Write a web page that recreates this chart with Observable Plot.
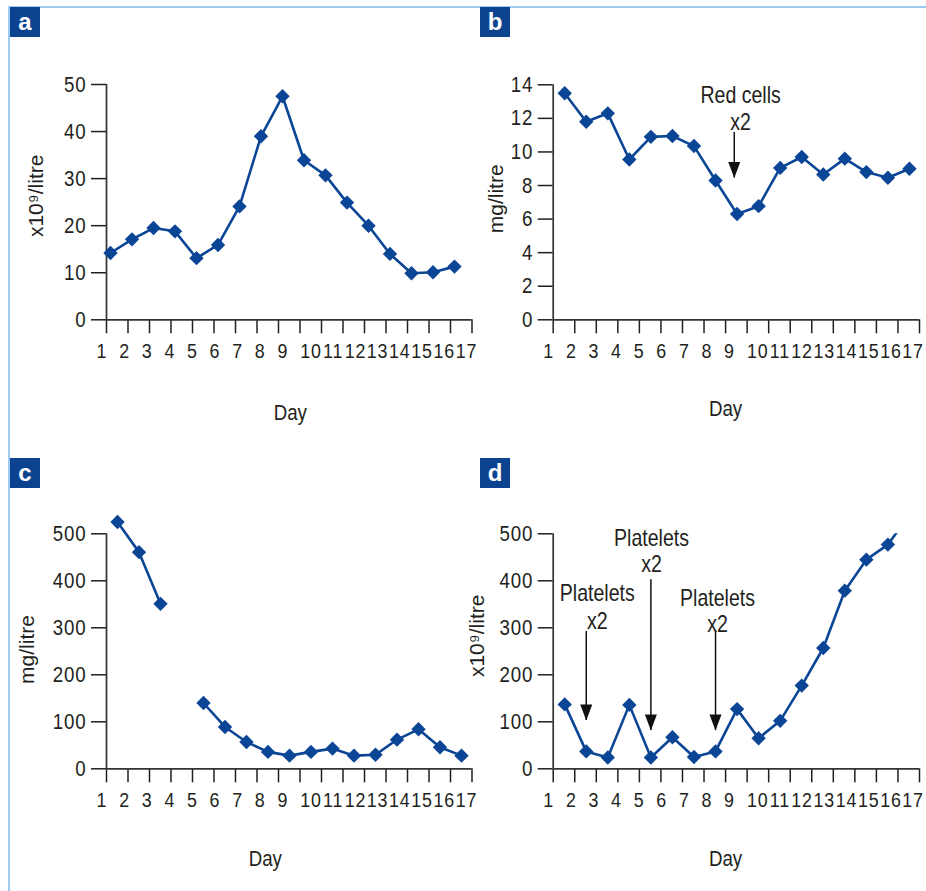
<!DOCTYPE html>
<html><head><meta charset="utf-8">
<script src="https://cdn.jsdelivr.net/npm/d3@7"></script>
<script src="https://cdn.jsdelivr.net/npm/@observablehq/plot@0.6"></script>
<style>
html,body{margin:0;padding:0;background:#fff;}
#wrap{position:relative;width:926px;height:891px;overflow:hidden;background:#fff;}
#wrap svg{position:absolute;left:0;top:0;}
.bl{position:absolute;background:#9fcbef;}
.tag{position:absolute;width:30px;height:30px;background:#0b4391;color:#fff;font:bold 24px "Liberation Sans",Arial,sans-serif;text-align:center;line-height:29px;}
</style></head>
<body><div id="wrap">
<div class="bl" style="left:8px;top:6px;width:2px;height:885px"></div>
<div class="bl" style="left:8px;top:6px;width:918px;height:2px"></div>
<div class="tag" style="left:10px;top:7px">a</div>
<div class="tag" style="left:480px;top:7px">b</div>
<div class="tag" style="left:10px;top:458px">c</div>
<div class="tag" style="left:480px;top:458px">d</div>
</div>
<script>
// ---- data ----
const days = d3.range(1, 18);
const dayLabels = days.map(String);
const aValues = [14.2, 17.1, 19.5, 18.8, 13.1, 15.9, 24.1, 39.0, 47.5, 33.9, 30.7, 24.9, 20.0, 14.0, 9.9, 10.1, 11.3];
const bValues = [13.5, 11.8, 12.3, 9.55, 10.9, 10.95, 10.35, 8.3, 6.3, 6.77, 9.05, 9.7, 8.66, 9.6, 8.8, 8.46, 9.0];
const cValues = [525, 461, 351, null, 140, 89, 57, 36, 28, 36, 43, 28, 30, 62, 84, 46, 28];
const dValues = [137, 37, 24, 136, 24, 67, 25, 37, 127, 65, 102, 177, 257, 379, 445, 477, 540];
const aTicks = [0, 10, 20, 30, 40, 50];
const bTicks = [0, 2, 4, 6, 8, 10, 12, 14];
const cTicks = [0, 100, 200, 300, 400, 500];
const dTicks = [0, 100, 200, 300, 400, 500];
const bNotes = [{day: 8.87, line1: "Red cells", line2: "x2", top: 11.16, tip: 8.45, y1: 12.9, y2: 11.32, tdx: 6.3}];
const dNotes = [
  {day: 2, line1: "Platelets", line2: "x2", top: 292, tip: 103, y1: 356, y2: 298, tdx: 11},
  {day: 5, line1: "Platelets", line2: "x2", top: 402, tip: 81.5, y1: 475, y2: 418, tdx: 0.6},
  {day: 8, line1: "Platelets", line2: "x2", top: 294, tip: 81.5, y1: 347, y2: 290.5, tdx: 2}
];

const BLUE = "#0b4595";
const INK = "#231f20";
const FONT = '"Liberation Sans",Arial,sans-serif';
const SQUEEZE = 0.85;
const diamond = {draw(ctx) { const s = 7.2; ctx.moveTo(0, -s); ctx.lineTo(s, 0); ctx.lineTo(0, s); ctx.lineTo(-s, 0); ctx.closePath(); }};
const arrowHead = {draw(ctx) { ctx.moveTo(-6, -16); ctx.lineTo(6, -16); ctx.lineTo(0, 0); ctx.closePath(); }};

// pixel offset of each day label from the first tick (labels run together as in the original)
function labelOffset(k) { return k <= 9 ? -4.5 + 22.6 * (k - 1) : 204.5 + 22.2 * (k - 10); }

// condensed look: narrow every horizontal text around its anchor
function condense(svg) {
  svg.querySelectorAll("text").forEach(t => {
    const tr = t.getAttribute("transform") || "";
    if (/rotate/.test(tr)) return;
    if (/^\d+$/.test(t.textContent.trim())) t.style.letterSpacing = "1px";
    if (tr) {
      t.setAttribute("transform", tr + ` scale(${SQUEEZE},1)`);
    } else {
      const x = +(t.getAttribute("x") || 0), y = +(t.getAttribute("y") || 0);
      t.setAttribute("transform", `translate(${x},${y}) scale(${SQUEEZE},1) translate(${-x},${-y})`);
    }
  });
}

function panel(cfg) {
  const W = 926, H = 891;
  const band = (cfg.x1 - cfg.x0) / 17;
  const rows = days.map((d, i) => ({day: d, v: cfg.values[i]}));
  const notes = cfg.notes || [];
  const marks = [
    Plot.axisY({ticks: cfg.yTicks, tickSize: 15, tickPadding: 5, label: null, fontSize: 22, strokeWidth: 1.5}),
    Plot.axisX({ticks: d3.range(1, 19), tickSize: 14, tickFormat: () => "", label: null, strokeWidth: 1.5}),
    Plot.ruleY([0], {stroke: "#333", strokeWidth: 1.7}),
    Plot.ruleX([1], {stroke: "#333", strokeWidth: 1.7}),
    Plot.text(dayLabels, {x: (d, i) => 1 + labelOffset(i + 1) / band, frameAnchor: "bottom", dy: 38, lineAnchor: "bottom", fontSize: 21, fill: INK}),
    Plot.text(["Day"], {frameAnchor: "bottom", dx: cfg.dayDx, dy: cfg.dayDy, lineAnchor: "bottom", fontSize: 22, fill: INK}),
    Plot.text([cfg.yLabel], {frameAnchor: "left", rotate: -90, dx: cfg.ylDx, dy: cfg.ylDy, lineAnchor: "bottom", textAnchor: "middle", fontSize: 21, fill: INK}),
    Plot.line(rows, {x: "day", y: "v", stroke: BLUE, strokeWidth: 2.6, dx: cfg.dx, clip: cfg.clip}),
    Plot.dot(rows.filter(r => r.v != null), {x: "day", y: "v", symbol: diamond, fill: BLUE, stroke: "none", dx: cfg.dx, clip: cfg.clip}),
    Plot.ruleX(notes, {x: "day", y1: "top", y2: "tip", dx: cfg.dx, stroke: "#111", strokeWidth: 1.5}),
    Plot.dot(notes, {x: "day", y: "tip", symbol: arrowHead, fill: "#111", stroke: "none", dx: cfg.dx}),
    Plot.text(notes, {x: n => n.day + n.tdx / band, y: "y1", text: "line1", lineAnchor: "bottom", fontSize: 23, fill: INK, dx: cfg.dx}),
    Plot.text(notes, {x: n => n.day + n.tdx / band, y: "y2", text: "line2", lineAnchor: "bottom", fontSize: 23, fill: INK, dx: cfg.dx})
  ];
  const svg = Plot.plot({
    width: W, height: H,
    marginLeft: cfg.x0, marginRight: W - cfg.x1, marginTop: cfg.yTop, marginBottom: H - cfg.y0,
    x: {type: "linear", domain: [1, 18]},
    y: {type: "linear", domain: [0, cfg.yMax]},
    style: {background: "transparent", overflow: "visible", fontFamily: FONT, fontSize: "21px", color: INK},
    marks
  });
  condense(svg);
  document.getElementById("wrap").appendChild(svg);
}

panel({x0: 106, x1: 471.5, yTop: 84, y0: 319.3, yMax: 50, yTicks: aTicks, values: aValues, dx: 4,
  dayDx: 1, dayDy: 100, yLabel: "x10⁹/litre", ylDx: -63.5, ylDy: -6.3});
panel({x0: 552.7, x1: 919, yTop: 84.3, y0: 319.3, yMax: 14, yTicks: bTicks, values: bValues, dx: 11.5,
  dayDx: -10.8, dayDy: 95.7, yLabel: "mg/litre", ylDx: -50.4, ylDy: -3.5, notes: bNotes});
panel({x0: 106, x1: 471.5, yTop: 533.3, y0: 768.3, yMax: 500, yTicks: cTicks, values: cValues, dx: 11,
  dayDx: -24, dayDy: 96.7, yLabel: "mg/litre", ylDx: -73, ylDy: -1.8});
panel({x0: 552.7, x1: 919, yTop: 533.3, y0: 768.3, yMax: 500, yTicks: dTicks, values: dValues, dx: 11.5,
  dayDx: -10.8, dayDy: 96.7, yLabel: "x10⁹/litre", ylDx: -69.7, ylDy: -15.5, notes: dNotes, clip: true});
</script></body></html>
